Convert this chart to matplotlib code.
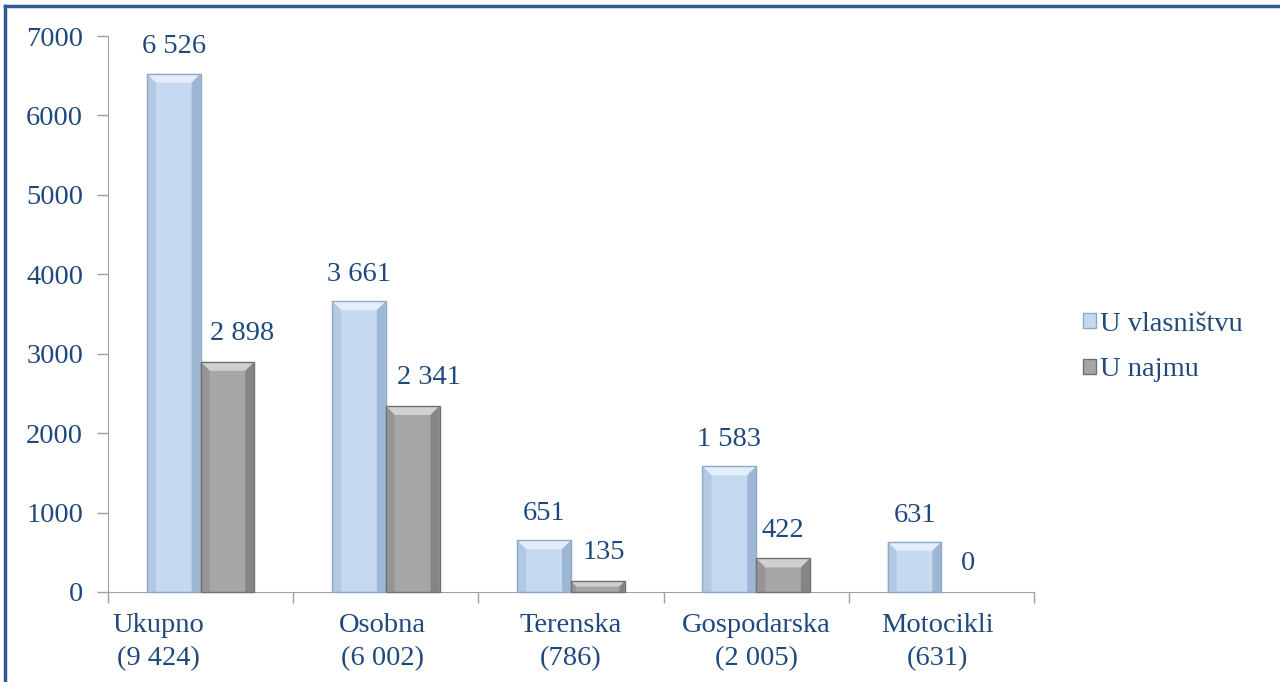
import matplotlib
matplotlib.use('Agg')
import matplotlib.pyplot as plt
from matplotlib.patches import Polygon, Patch
from matplotlib.lines import Line2D
import numpy as np

# data
categories = ['Ukupno\n(9 424)', 'Osobna\n(6 002)', 'Terenska\n(786)', 'Gospodarska\n(2 005)', 'Motocikli\n(631)']
owned = [6526, 3661, 651, 1583, 631]
leased = [2898, 2341, 135, 422, 0]
owned_labels = ['6 526', '3 661', '651', '1 583', '631']
leased_labels = ['2 898', '2 341', '135', '422', '0']
series_names = ['U vlasništvu', 'U najmu']
y_ticks = [0, 1000, 2000, 3000, 4000, 5000, 6000, 7000]

text_color = '#1F497D'
fs = 20.5
plt.rcParams['font.family'] = ['Liberation Serif', 'DejaVu Serif']

fig = plt.figure(figsize=(12.8, 6.82), dpi=100)
ax = fig.add_axes([0.0844, 0.132, 0.7234, 0.8152])

x = np.arange(len(categories))
w = 0.29
b1 = ax.bar(x - w / 2, owned, w, color='#C5D9F1', linewidth=0)
b2 = ax.bar(x + w / 2, leased, w, color='#A6A6A6', linewidth=0)

ax.set_xlim(-0.5, len(categories) - 0.5)
ax.set_ylim(0, 7000)
ax.set_yticks(y_ticks)
ax.set_yticklabels([str(t) for t in y_ticks])
ax.tick_params(axis='y', length=8, width=1, color='#A0A0A0', labelsize=fs, labelcolor=text_color, pad=10)

# category boundaries as x ticks, labels as text
ax.set_xticks(np.arange(len(categories) + 1) - 0.5)
ax.set_xticklabels([])
ax.tick_params(axis='x', length=8, width=1, color='#A0A0A0')
label_shift = [-0.23, -0.02, 0, 0, -0.02]
for i, lab in enumerate(categories):
    ax.text(i + label_shift[i], -270, lab, ha='center', va='top', fontsize=fs,
            color=text_color, linespacing=1.4)

for side in ['top', 'right']:
    ax.spines[side].set_visible(False)
ax.spines['left'].set_color('#A0A0A0')
ax.spines['bottom'].set_color('#A0A0A0')

# value labels
leased_shift = [0.08, 0.09, 0.03, 0, 0]
for i in range(len(categories)):
    ax.text(x[i] - w / 2, owned[i] + 180, owned_labels[i], ha='center', va='bottom',
            fontsize=fs, color=text_color)
    ax.text(x[i] + w / 2 + leased_shift[i], leased[i] + 200, leased_labels[i], ha='center', va='bottom',
            fontsize=fs, color=text_color)

# bevel effect on bars (drawn in pixels)
def bevel(bars, light, dark, side_light, side_dark):
    for r in bars:
        if r.get_height() <= 0:
            continue
        (x0, y0) = ax.transData.transform((r.get_x(), 0))
        (x1, y1) = ax.transData.transform((r.get_x() + r.get_width(), r.get_height()))
        d = min(9, (y1 - y0) / 2)
        polys = [
            ([(x0, y1), (x1, y1), (x1 - d, y1 - d), (x0 + d, y1 - d)], light),
            ([(x0, y0), (x0, y1), (x0 + d, y1 - d), (x0 + d, y0)], side_light),
            ([(x1, y0), (x1, y1), (x1 - d, y1 - d), (x1 - d, y0)], side_dark),
        ]
        for pts, c in polys:
            fig.patches.append(Polygon(pts, closed=True, facecolor=c, edgecolor='none',
                                       transform=None, figure=fig))
        fig.patches.append(Polygon([(x0, y0), (x0, y1), (x1, y1), (x1, y0)], closed=True,
                                   facecolor='none', edgecolor=dark, linewidth=1,
                                   transform=None, figure=fig))

bevel(b1, '#E3EEFA', '#8DA8C8', '#B3C8E2', '#9DB6D4')
bevel(b2, '#D0D0D0', '#707070', '#969696', '#858585')

# legend
handles = [Patch(facecolor='#C5D9F1', edgecolor='#8DA8C8'),
           Patch(facecolor='#A6A6A6', edgecolor='#707070')]
leg = fig.legend(handles, series_names, loc='center left', bbox_to_anchor=(0.846, 0.491),
                 frameon=False, fontsize=fs, handlelength=0.45, handleheight=0.45,
                 handletextpad=0.15, labelspacing=0.72, borderaxespad=0, borderpad=0)
for t in leg.get_texts():
    t.set_color(text_color)

# outer frame (top and left border)
fig.add_artist(Line2D([5 / 1280, 1], [1 - 6 / 682, 1 - 6 / 682], color='#2F5A93', linewidth=2.5,
                      transform=fig.transFigure))
fig.add_artist(Line2D([5 / 1280, 5 / 1280], [0, 1 - 6 / 682], color='#2F5A93', linewidth=2.5,
                      transform=fig.transFigure))

plt.savefig('out.png', dpi=100)
